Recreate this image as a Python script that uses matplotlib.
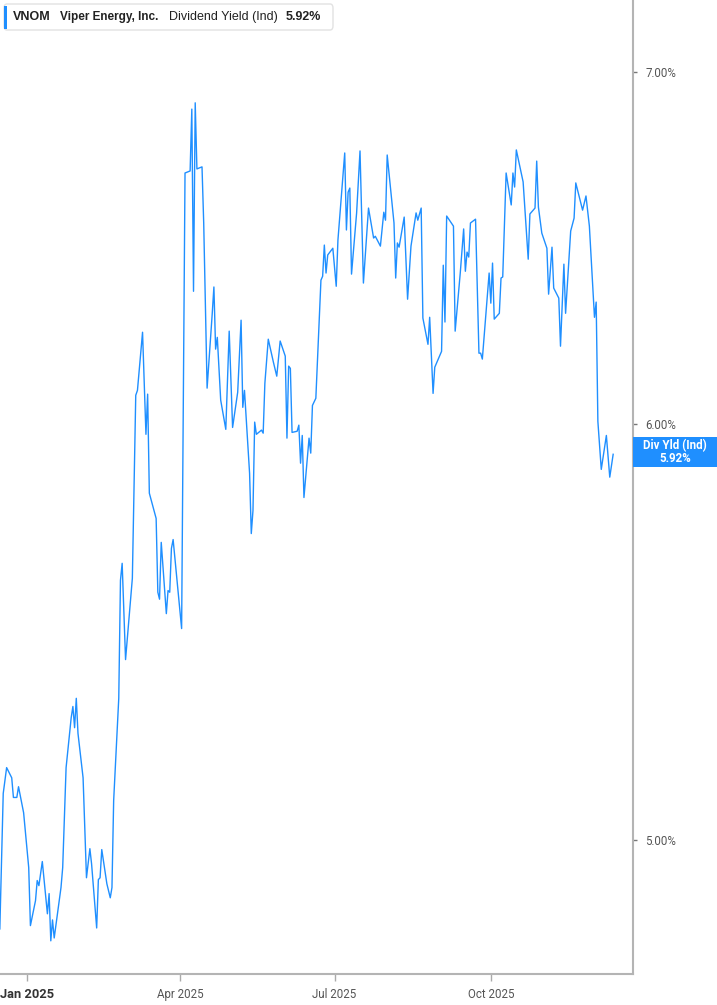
import matplotlib
matplotlib.use("Agg")
import matplotlib.pyplot as plt
import pandas as pd
from datetime import datetime, timedelta
from matplotlib.patches import FancyBboxPatch, Rectangle
from matplotlib.ticker import FixedLocator, NullLocator

BLUE = "#1f8fff"

ticker = "VNOM"
company = "Viper Energy, Inc."
metric = "Dividend Yield (Ind)"
badge_label = "Div Yld (Ind)"

dates = [
    "2024-12-16", "2024-12-18", "2024-12-20", "2024-12-23", "2024-12-24", "2024-12-26",
    "2024-12-27", "2024-12-30", "2025-01-02", "2025-01-03", "2025-01-06", "2025-01-07",
    "2025-01-08", "2025-01-10", "2025-01-13", "2025-01-14", "2025-01-15", "2025-01-16",
    "2025-01-17", "2025-01-21", "2025-01-22", "2025-01-24", "2025-01-27", "2025-01-28",
    "2025-01-29", "2025-01-30", "2025-01-31", "2025-02-03", "2025-02-05", "2025-02-07",
    "2025-02-08", "2025-02-11", "2025-02-12", "2025-02-13", "2025-02-14", "2025-02-17",
    "2025-02-19", "2025-02-20", "2025-02-21", "2025-02-23", "2025-02-24", "2025-02-25",
    "2025-02-26", "2025-02-28", "2025-03-04", "2025-03-06", "2025-03-07", "2025-03-10",
    "2025-03-12", "2025-03-13", "2025-03-14", "2025-03-18", "2025-03-19", "2025-03-20",
    "2025-03-21", "2025-03-24", "2025-03-25", "2025-03-26", "2025-03-27", "2025-03-28",
    "2025-04-02", "2025-04-04", "2025-04-07", "2025-04-08", "2025-04-09", "2025-04-10",
    "2025-04-11", "2025-04-14", "2025-04-15", "2025-04-17", "2025-04-20", "2025-04-21",
    "2025-04-22", "2025-04-23", "2025-04-25", "2025-04-28", "2025-04-30", "2025-05-02",
    "2025-05-05", "2025-05-07", "2025-05-08", "2025-05-09", "2025-05-12", "2025-05-13",
    "2025-05-14", "2025-05-15", "2025-05-16", "2025-05-19", "2025-05-20", "2025-05-21",
    "2025-05-23", "2025-05-26", "2025-05-28", "2025-05-30", "2025-06-02", "2025-06-03",
    "2025-06-04", "2025-06-05", "2025-06-06", "2025-06-09", "2025-06-10", "2025-06-11",
    "2025-06-12", "2025-06-13", "2025-06-16", "2025-06-17", "2025-06-18", "2025-06-20",
    "2025-06-23", "2025-06-24", "2025-06-25", "2025-06-26", "2025-06-27", "2025-06-30",
    "2025-07-02", "2025-07-03", "2025-07-07", "2025-07-08", "2025-07-09", "2025-07-10",
    "2025-07-11", "2025-07-14", "2025-07-16", "2025-07-18", "2025-07-21", "2025-07-24",
    "2025-07-25", "2025-07-28", "2025-07-30", "2025-07-31", "2025-08-01", "2025-08-05",
    "2025-08-06", "2025-08-07", "2025-08-08", "2025-08-11", "2025-08-13", "2025-08-15",
    "2025-08-18", "2025-08-19", "2025-08-21", "2025-08-22", "2025-08-25", "2025-08-26",
    "2025-08-28", "2025-08-29", "2025-09-02", "2025-09-03", "2025-09-04", "2025-09-05",
    "2025-09-09", "2025-09-10", "2025-09-13", "2025-09-15", "2025-09-16", "2025-09-17",
    "2025-09-18", "2025-09-19", "2025-09-22", "2025-09-24", "2025-09-25", "2025-09-26",
    "2025-09-30", "2025-10-01", "2025-10-02", "2025-10-03", "2025-10-06", "2025-10-07",
    "2025-10-08", "2025-10-10", "2025-10-13", "2025-10-14", "2025-10-15", "2025-10-16",
    "2025-10-20", "2025-10-23", "2025-10-24", "2025-10-27", "2025-10-28", "2025-10-29",
    "2025-10-31", "2025-11-03", "2025-11-04", "2025-11-06", "2025-11-07", "2025-11-10",
    "2025-11-11", "2025-11-13", "2025-11-14", "2025-11-17", "2025-11-19", "2025-11-20",
    "2025-11-24", "2025-11-26", "2025-11-28", "2025-12-01", "2025-12-02", "2025-12-03",
    "2025-12-05", "2025-12-08", "2025-12-10", "2025-12-12",
]

yield_pct = [
    4.809, 5.103, 5.161, 5.138, 5.094, 5.094,
    5.118, 5.060, 4.940, 4.816, 4.869, 4.912,
    4.901, 4.953, 4.841, 4.884, 4.784, 4.828,
    4.790, 4.897, 4.940, 5.161, 5.275, 5.301,
    5.252, 5.320, 5.239, 5.138, 4.918, 4.981,
    4.948, 4.811, 4.914, 4.918, 4.979, 4.905,
    4.875, 4.897, 5.087, 5.239, 5.320, 5.602,
    5.644, 5.411, 5.607, 6.075, 6.088, 6.245,
    5.972, 6.078, 5.820, 5.756, 5.573, 5.556,
    5.696, 5.521, 5.577, 5.573, 5.681, 5.703,
    5.485, 6.696, 6.702, 6.886, 6.358, 6.905,
    6.708, 6.714, 6.551, 6.094, 6.295, 6.370,
    6.199, 6.231, 6.062, 5.985, 6.248, 5.990,
    6.083, 6.278, 6.043, 6.088, 5.871, 5.718,
    5.776, 6.004, 5.972, 5.983, 5.975, 6.107,
    6.226, 6.164, 6.126, 6.221, 6.180, 5.962,
    6.153, 6.147, 5.977, 5.980, 5.996, 5.897,
    5.969, 5.809, 5.962, 5.923, 6.048, 6.067,
    6.389, 6.400, 6.488, 6.409, 6.460, 6.479,
    6.372, 6.502, 6.755, 6.531, 6.640, 6.652,
    6.406, 6.580, 6.761, 6.381, 6.594, 6.508,
    6.513, 6.485, 6.582, 6.559, 6.749, 6.551,
    6.395, 6.494, 6.482, 6.568, 6.336, 6.485,
    6.580, 6.559, 6.594, 6.284, 6.212, 6.286,
    6.080, 6.150, 6.193, 6.431, 6.273, 6.571,
    6.542, 6.248, 6.409, 6.534, 6.414, 6.468,
    6.454, 6.551, 6.562, 6.188, 6.188, 6.172,
    6.409, 6.325, 6.437, 6.281, 6.297, 6.395,
    6.398, 6.696, 6.603, 6.696, 6.655, 6.764,
    6.670, 6.448, 6.577, 6.594, 6.731, 6.597,
    6.522, 6.479, 6.350, 6.482, 6.367, 6.339,
    6.207, 6.434, 6.297, 6.528, 6.565, 6.667,
    6.588, 6.629, 6.542, 6.286, 6.328, 6.006,
    5.881, 5.969, 5.861, 5.92,
]

y_ticks = [5.0, 6.0, 7.0]
y_tick_labels = ["5.00%", "6.00%", "7.00%"]
x_ticks = ["2025-01-01", "2025-04-01", "2025-07-01", "2025-10-01"]
x_tick_labels = ["Jan 2025", "Apr 2025", "Jul 2025", "Oct 2025"]

W, H = 717, 1005
fig = plt.figure(figsize=(W / 100, H / 100), dpi=100)
fig.patch.set_facecolor("white")

ax = fig.add_axes([0, 31 / H, 632.7 / W, 974 / H])
ax.plot(pd.to_datetime(dates), yield_pct, color=BLUE, lw=1.0)

ax.set_yscale("log")
ax.set_ylim(4.715, 7.223)
ax.yaxis.set_major_locator(FixedLocator(y_ticks))
ax.yaxis.set_minor_locator(NullLocator())
ax.set_yticklabels(y_tick_labels)
ax.yaxis.tick_right()

jan1 = datetime(2025, 1, 1)
ax.set_xlim(jan1 - timedelta(days=15.9), jan1 + timedelta(days=356.5))
ax.set_xticks(pd.to_datetime(x_ticks))
ax.set_xticklabels(x_tick_labels)
ax.xaxis.set_minor_locator(NullLocator())

for side in ("left", "top"):
    ax.spines[side].set_visible(False)
for side in ("right", "bottom"):
    ax.spines[side].set_color("#b4b4b4")
    ax.spines[side].set_linewidth(1.5)

ax.tick_params(axis="y", direction="out", length=3, width=1, color="#777777",
               pad=6, labelsize=8.3, labelcolor="#555555")
ax.tick_params(axis="x", direction="out", length=5, width=1, color="#aaaaaa",
               pad=5, labelsize=8.3, labelcolor="#555555")
for lab in ax.get_xticklabels() + ax.get_yticklabels():
    lab.set_family("Roboto")
first = ax.get_xticklabels()[0]
first.set_fontweight("bold")
first.set_fontsize(9.3)
first.set_color("#333333")

# header box
box = FancyBboxPatch((4 / W, 1 - 30 / H), 329 / W, 26 / H,
                     boxstyle="round,pad=0,rounding_size=0.004",
                     transform=fig.transFigure, facecolor="white",
                     edgecolor="#e2e2e2", lw=1.0)
fig.add_artist(box)
fig.add_artist(Rectangle((4 / W, 1 - 29 / H), 3 / W, 23 / H,
                         transform=fig.transFigure, color=BLUE, lw=0))
ty = 1 - 16.7 / H
head = dict(va="center", ha="left", fontsize=9, color="#222222", family="Liberation Sans")
fig.text(13 / W, ty, ticker, fontweight="bold", **head)
fig.text(60 / W, ty, company, fontweight="bold",
         **{**head, "fontsize": 8.5})
fig.text(169 / W, ty, metric, **head)
fig.text(285.5 / W, ty, f"{yield_pct[-1]:.2f}%", fontweight="bold", **head)

# last value badge
fig.add_artist(Rectangle((633 / W, 1 - 467 / H), (W - 633) / W, 30 / H,
                         transform=fig.transFigure, color=BLUE, lw=0))
badge = dict(ha="center", va="center", color="white", fontsize=8.3,
             fontweight="bold", family="Roboto")
fig.text(675 / W, 1 - 446 / H, badge_label, **badge)
fig.text(675 / W, 1 - 458 / H, f"{yield_pct[-1]:.2f}%", **badge)

fig.savefig("out.png", dpi=100, facecolor="white")
